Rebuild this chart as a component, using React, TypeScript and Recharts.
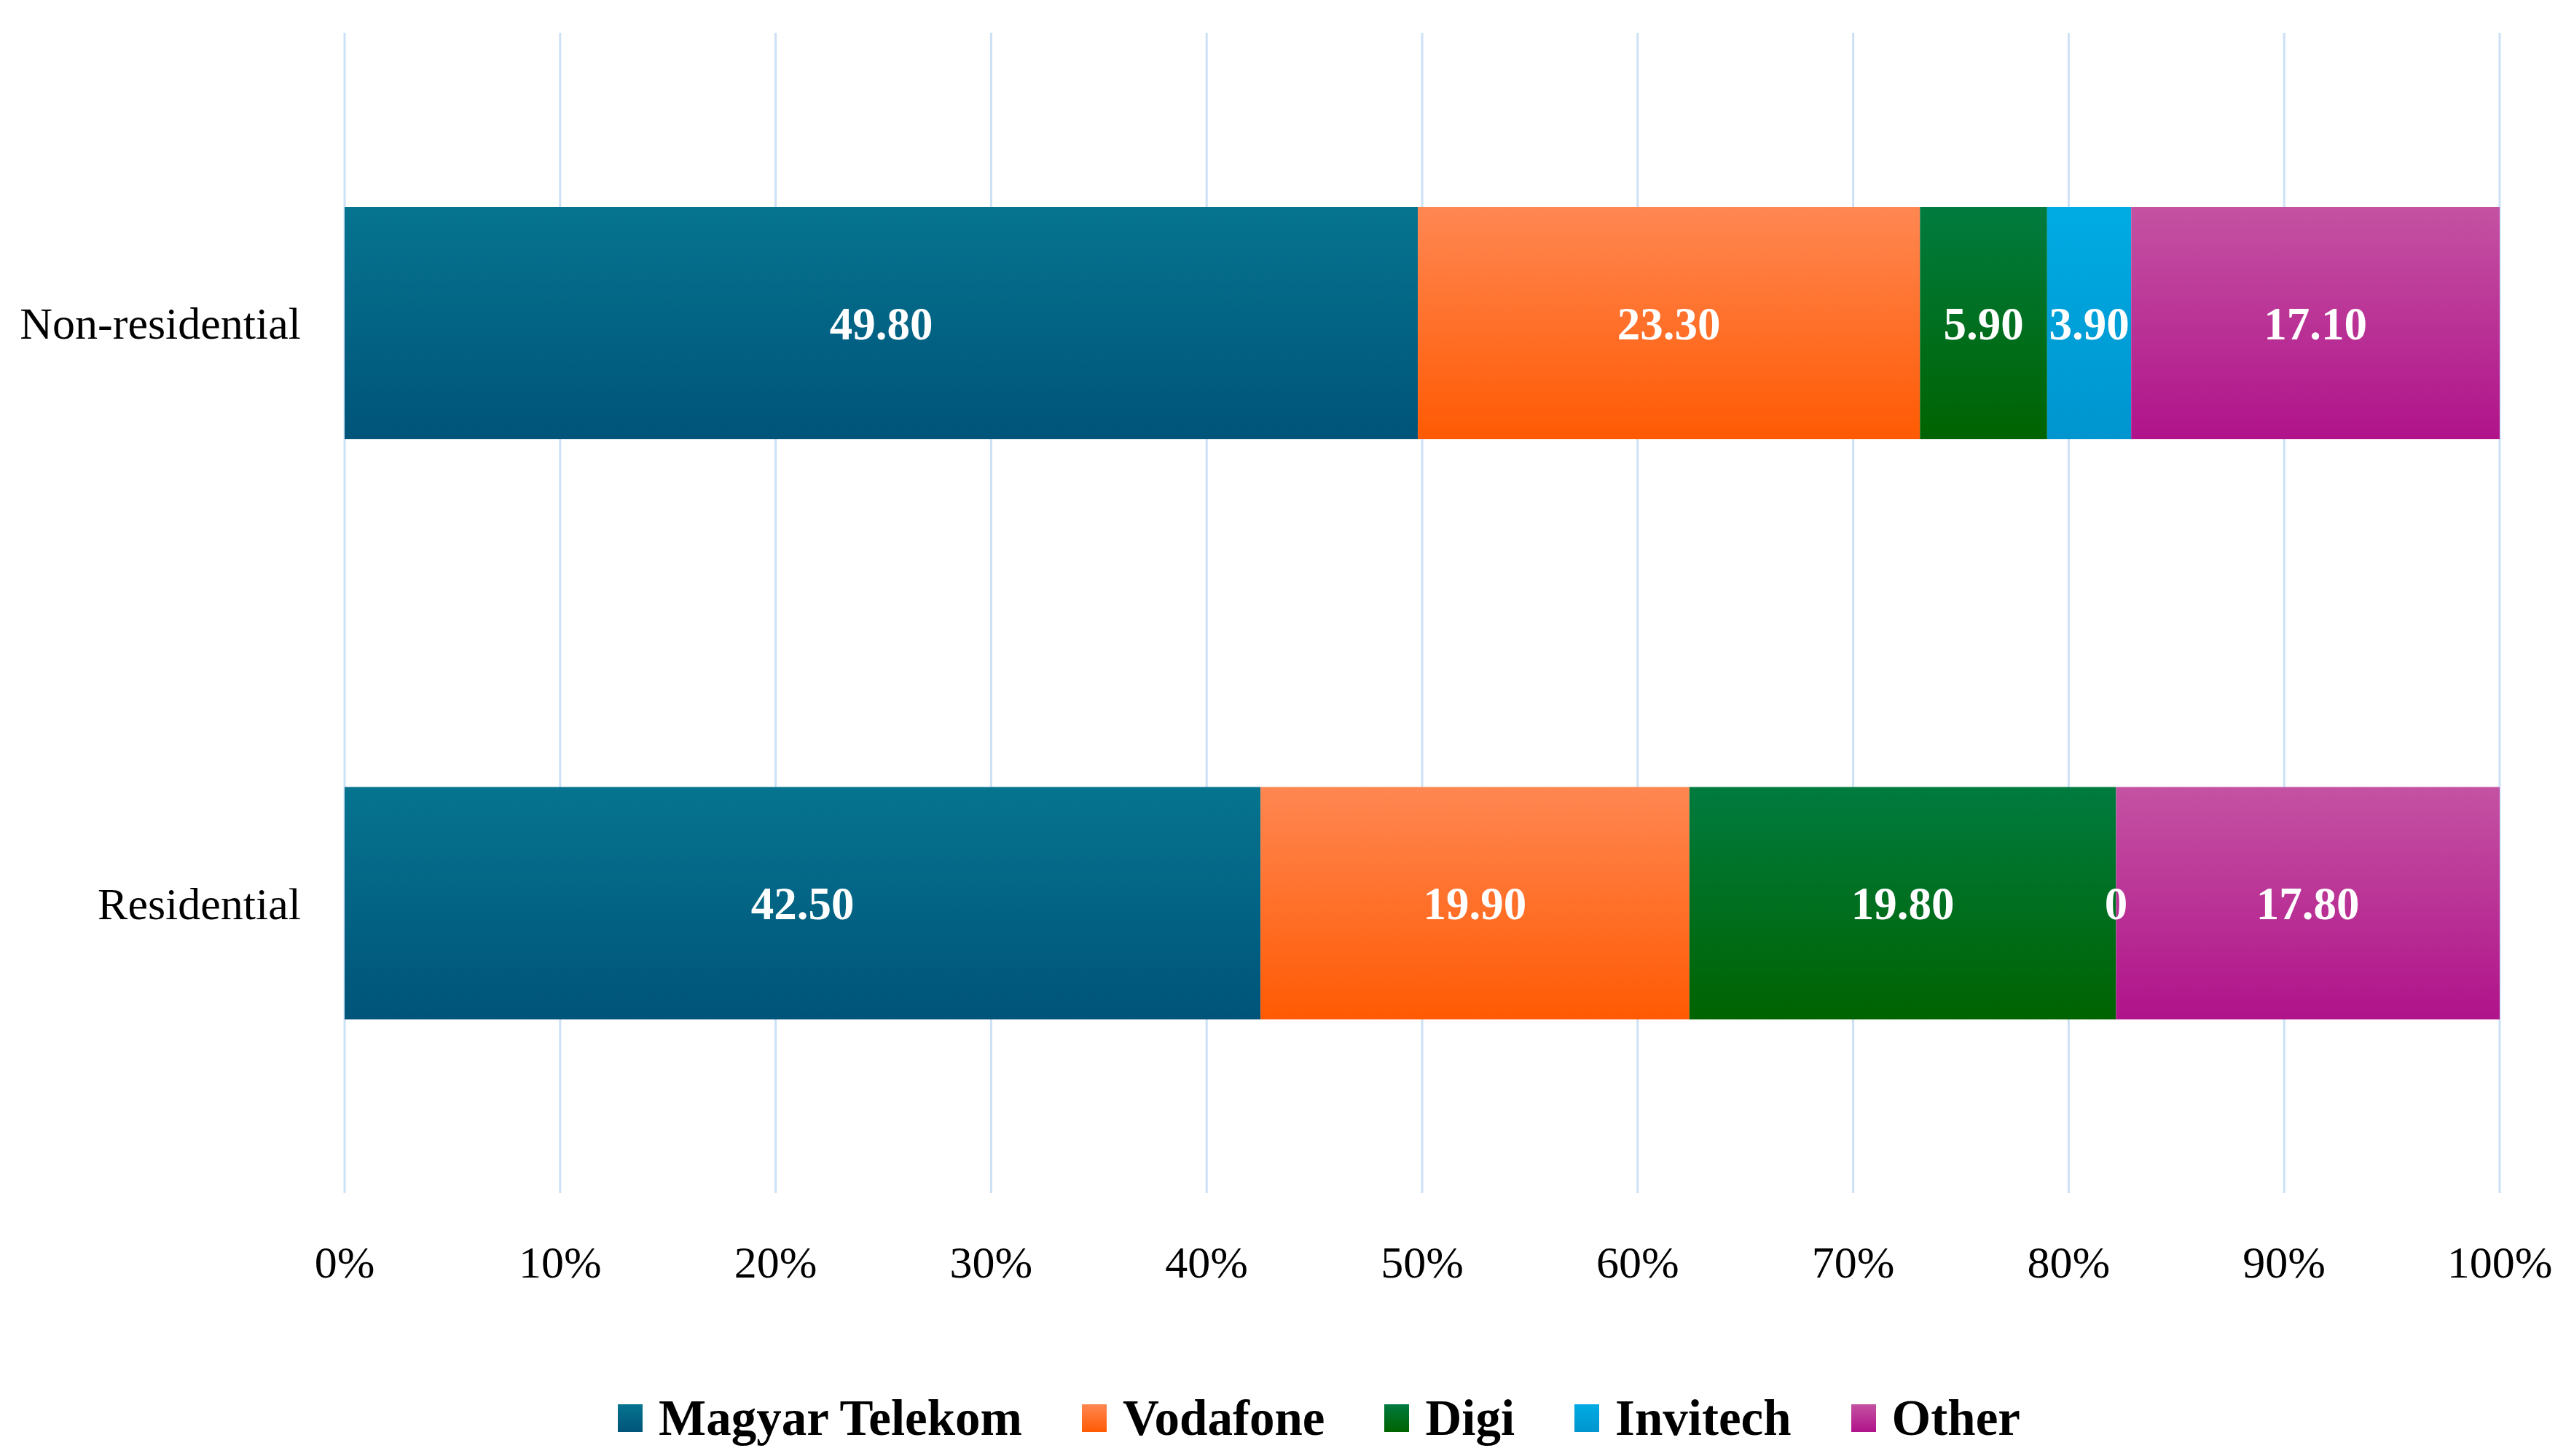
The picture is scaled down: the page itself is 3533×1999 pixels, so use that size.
import React from 'react';
import { BarChart, Bar, XAxis, YAxis, CartesianGrid, Legend, LabelList } from 'recharts';

const categories = ['Non-residential', 'Residential'];
const magyarTelekom = [49.8, 42.5];
const vodafone = [23.3, 19.9];
const digi = [5.9, 19.8];
const invitech = [3.9, 0];
const other = [17.1, 17.8];
const xTicks = [0, 10, 20, 30, 40, 50, 60, 70, 80, 90, 100];

const FONT = '"Liberation Serif", "Times New Roman", serif';

const series = [
  { key: 'magyar', name: 'Magyar Telekom', values: magyarTelekom, top: '#06748f', bottom: '#00547a' },
  { key: 'vodafone', name: 'Vodafone', values: vodafone, top: '#ff8752', bottom: '#ff5a03' },
  { key: 'digi', name: 'Digi', values: digi, top: '#007b3f', bottom: '#006300' },
  { key: 'invitech', name: 'Invitech', values: invitech, top: '#00abe3', bottom: '#0095cf' },
  { key: 'other', name: 'Other', values: other, top: '#c452a2', bottom: '#b0138a' },
];

const data = categories.map((name, i) => {
  const row: Record<string, string | number> = { name };
  series.forEach((s) => {
    row[s.key] = s.values[i];
  });
  return row;
});

const formatValue = (v: any) => (Number(v) === 0 ? '0' : Number(v).toFixed(2));

const LegendContent = () => (
  <div
    style={{
      display: 'flex',
      justifyContent: 'center',
      alignItems: 'center',
      height: '100%',
      fontFamily: FONT,
      fontWeight: 'bold',
      fontSize: 69,
      color: '#000',
    }}
  >
    {series.map((s, i) => (
      <div
        key={s.key}
        style={{ display: 'flex', alignItems: 'center', marginRight: i === series.length - 1 ? 0 : 82 }}
      >
        <span
          style={{
            display: 'inline-block',
            width: 34,
            height: 38,
            marginRight: 22,
            background: `linear-gradient(to bottom, ${s.top}, ${s.bottom})`,
          }}
        />
        <span>{s.name}</span>
      </div>
    ))}
  </div>
);

const App: React.FC = () => {
  return (
    <div style={{ position: 'absolute', left: 0, top: 0, background: '#fff' }}>
      <BarChart
        width={3533}
        height={1999}
        data={data}
        layout="vertical"
        barCategoryGap="30%"
        margin={{ top: 45, right: 102, bottom: 111, left: 0 }}
      >
        <defs>
          {series.map((s) => (
            <linearGradient key={s.key} id={`grad-${s.key}`} x1="0" y1="0" x2="0" y2="1">
              <stop offset="0%" stopColor={s.top} />
              <stop offset="100%" stopColor={s.bottom} />
            </linearGradient>
          ))}
        </defs>
        <CartesianGrid horizontal={false} stroke="#cce1f5" strokeWidth={3} />
        <XAxis
          type="number"
          domain={[0, 100]}
          ticks={xTicks}
          interval={0}
          tickFormatter={(v) => `${v}%`}
          axisLine={false}
          tickLine={false}
          tickSize={0}
          tickMargin={72}
          height={150}
          tick={{ fontFamily: FONT, fontSize: 62, fill: '#000' }}
        />
        <YAxis
          type="category"
          dataKey="name"
          width={473}
          axisLine={false}
          tickLine={false}
          tickSize={0}
          tickMargin={60}
          tick={{ fontFamily: FONT, fontSize: 62, fill: '#000' }}
        />
        <Legend
          content={<LegendContent />}
          wrapperStyle={{ left: 44, top: 1897, bottom: 'auto', width: 3533, height: 100 }}
        />
        {series.map((s) => (
          <Bar
            key={s.key}
            dataKey={s.key}
            name={s.name}
            stackId="a"
            fill={`url(#grad-${s.key})`}
            minPointSize={0.01}
            isAnimationActive={false}
          >
            <LabelList
              dataKey={s.key}
              position="center"
              formatter={formatValue}
              fill="#fff"
              style={{ fontFamily: FONT, fontSize: 63, fontWeight: 'bold' }}
            />
          </Bar>
        ))}
      </BarChart>
    </div>
  );
};

export default App;
